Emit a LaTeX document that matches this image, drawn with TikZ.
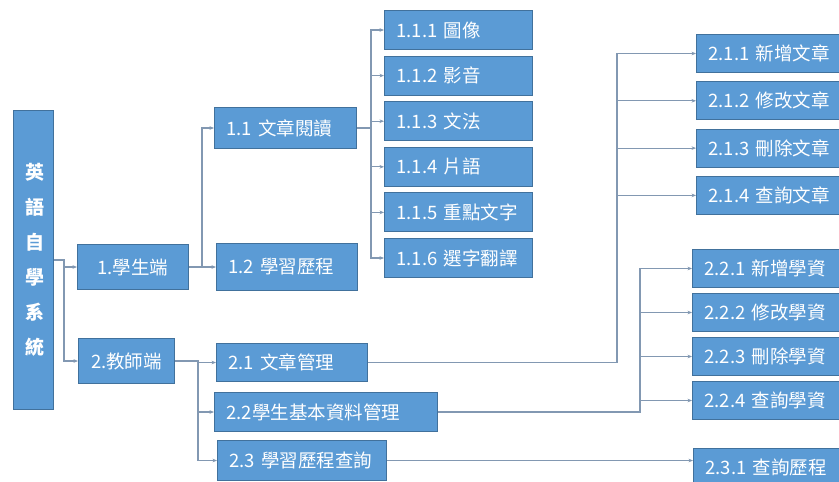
\documentclass[tikz,border=0pt]{standalone}
\usepackage{fontspec}
\newfontfamily\cjk{Noto Sans CJK TC}
\usepackage{tikz}
\usetikzlibrary{positioning,arrows.meta}
\definecolor{boxblue}{HTML}{5B9BD5}
\definecolor{boxline}{HTML}{41719C}
\definecolor{linkgray}{HTML}{8298B2}

\begin{document}
\begin{tikzpicture}[
  x=1pt, y=-1pt,
  font=\cjk\fontsize{18.5}{22}\selectfont,
  box/.style={draw=boxline, fill=boxblue, text=white, line width=1pt, inner xsep=12pt, inner ysep=0pt, align=left, anchor=north west, minimum height=39pt},
  leaf/.style={box, text width=124pt},
  sub/.style={box, text width=146pt, minimum height=38pt},
  arr/.style={-{Stealth[length=4.5pt, width=3.6pt]}, linkgray, line width=1.1pt},
]
\useasboundingbox (0,0) rectangle (839,482);
\clip (0,0) rectangle (839,482);
% root and the two sides
\node[box, text width=16pt, minimum height=299pt, align=center, font=\cjk\bfseries\fontsize{19}{35}\selectfont] (root) at (13,110) {英\\語\\自\\學\\系\\統};
\node[box, text width=87pt, align=center, minimum height=45pt] (s1) at (77,244) {1.學生端};
\node[box, text width=72pt, align=center, minimum height=45pt] (s2) at (78,338) {2.教師端};
% student side
\node[box, text width=118pt, minimum height=41pt] (r11) at (214,107) {1.1 文章閱讀};
\node[box, text width=117pt, minimum height=47pt] (r12) at (216,243) {1.2 學習歷程};
\node[leaf] (l1) at (384,10) {1.1.1 圖像};
\node[leaf, below=5.6pt of l1] (l2) {1.1.2 影音};
\node[leaf, below=5.6pt of l2] (l3) {1.1.3 文法};
\node[leaf, below=5.6pt of l3] (l4) {1.1.4 片語};
\node[leaf, below=5.6pt of l4] (l5) {1.1.5 重點文字};
\node[leaf, below=5.6pt of l5] (l6) {1.1.6 選字翻譯};
% teacher side
\node[box, text width=127pt, minimum height=38pt] (t21) at (216,343) {2.1 文章管理};
\node[box, text width=199pt] (t22) at (214,392) {2.2學生基本資料管理};
\node[box, text width=145pt, minimum height=40pt] (t23) at (217,440) {2.3 學習歷程查詢};
\node[sub] (a1) at (696,34) {2.1.1 新增文章};
\node[sub, below=8.3pt of a1] (a2) {2.1.2 修改文章};
\node[sub, below=8.3pt of a2] (a3) {2.1.3 刪除文章};
\node[sub, below=8.3pt of a3] (a4) {2.1.4 查詢文章};
\node[sub] (b1) at (692,249) {2.2.1 新增學資};
\node[sub, below=5pt of b1] (b2) {2.2.2 修改學資};
\node[sub, below=5pt of b2] (b3) {2.2.3 刪除學資};
\node[sub, below=5pt of b3] (b4) {2.2.4 查詢學資};
\node[sub] (c1) at (693,448) {2.3.1 查詢歷程};
% connectors
\draw[arr] (root.east) -- ++(10,0) |- (s1.west);
\draw[arr] (root.east) -- ++(10,0) |- (s2.west);
\draw[arr] (s1.east) -- ++(13,0) |- (r11.west);
\draw[arr] (s1.east) -- (r12.west);
\foreach \i in {1,...,6} \draw[arr] (r11.east) -- ++(14,0) |- (l\i.west);
\foreach \t in {t21,t22,t23} \draw[arr] (s2.east) -- ++(23,0) |- (\t.west);
\foreach \i in {1,...,4} \draw[arr] (t21.east) -- ++(249,0) |- (a\i.west);
\foreach \i in {1,...,4} \draw[arr] (t22.east) -- ++(202,0) |- (b\i.west);
\draw[arr] (t23.east) -- (t23.east -| c1.west);
\end{tikzpicture}
\end{document}
